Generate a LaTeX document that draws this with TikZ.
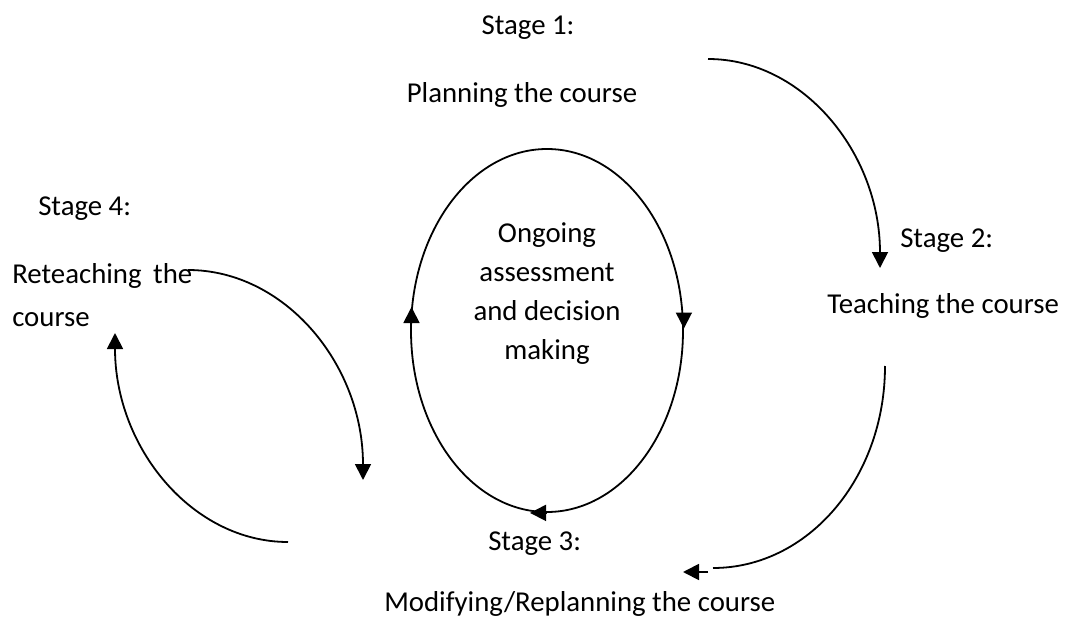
\documentclass[tikz,border=0pt]{standalone}
\usepackage{fontspec}
\setmainfont{Carlito}
\usetikzlibrary{shapes.geometric,arrows.meta,calc}
\begin{document}
\begin{tikzpicture}[x=0.75pt,y=-0.75pt,
  lbl/.style={inner sep=0pt, font=\fontsize{21.6pt}{29.5pt}\selectfont},
  conn/.style={line width=1.35pt},
  arr/.style={line width=1.35pt,-{Triangle[length=12pt,width=12pt]}},
]
\useasboundingbox (0,0) rectangle (1067,624);

% labels
\node[lbl, anchor=base] (s1) at (528,35) {Stage 1:};
\node[lbl, anchor=base] (p1) at (522,103) {Planning the course};
\node[lbl, anchor=base west] (s2) at (900,247) {Stage 2:};
\node[lbl, anchor=base west] (p2) at (827,313) {Teaching the course};
\node[lbl, anchor=base west] (s3) at (488,550) {Stage 3:};
\node[lbl, anchor=base west] (p3) at (384,611) {Modifying/Replanning the course};
\node[lbl, anchor=base west] (s4) at (38,215) {Stage 4:};
\node[lbl, anchor=base west, font=\fontsize{21.6pt}{32.25pt}\selectfont] (p4) at (12,283)
  {\begin{tabular}[t]{@{}l@{}}Reteaching\hspace{0.4em}the\\course\end{tabular}};

% central ellipse
\node[draw, ellipse, conn, minimum width=204pt, minimum height=272.25pt, inner sep=0pt] (ell) at (547,330.5) {};
\node[lbl, anchor=base] (mid) at (547,242)
  {\begin{tabular}[t]{@{}c@{}}Ongoing\\assessment\\and decision\\making\end{tabular}};
\draw[arr] ($(ell.east)+(0,-18)$) -- ($(ell.east)+(0,-2)$);
\draw[arr] (411.5,324) -- (411.5,307);
\draw[arr] ($(ell.south)+(-1,0)$) -- ($(ell.south)+(-17,0)$);

% outer arcs
\coordinate (a1s) at (708,59);  \coordinate (a1e) at (880,268);
\draw[arr] (a1s) .. controls (803,59) and (880,153) .. (a1e);

\coordinate (a2s) at (885,366); \coordinate (a2e) at (713,568);
\draw[conn] (a2s) .. controls (885,478) and (808,568) .. (a2e);
\coordinate (a2t) at (708,572); \coordinate (a2h) at (683,572);
\draw[arr] (a2t) -- (a2h);

\coordinate (a3s) at (288,542); \coordinate (a3e) at (115,333);
\draw[arr] (a3s) .. controls (192.5,542) and (115,448) .. (a3e);

\coordinate (a4s) at (188,270); \coordinate (a4e) at (363,480);
\draw[arr] (a4s) .. controls (284.6,270) and (363,364) .. (a4e);
\end{tikzpicture}
\end{document}
